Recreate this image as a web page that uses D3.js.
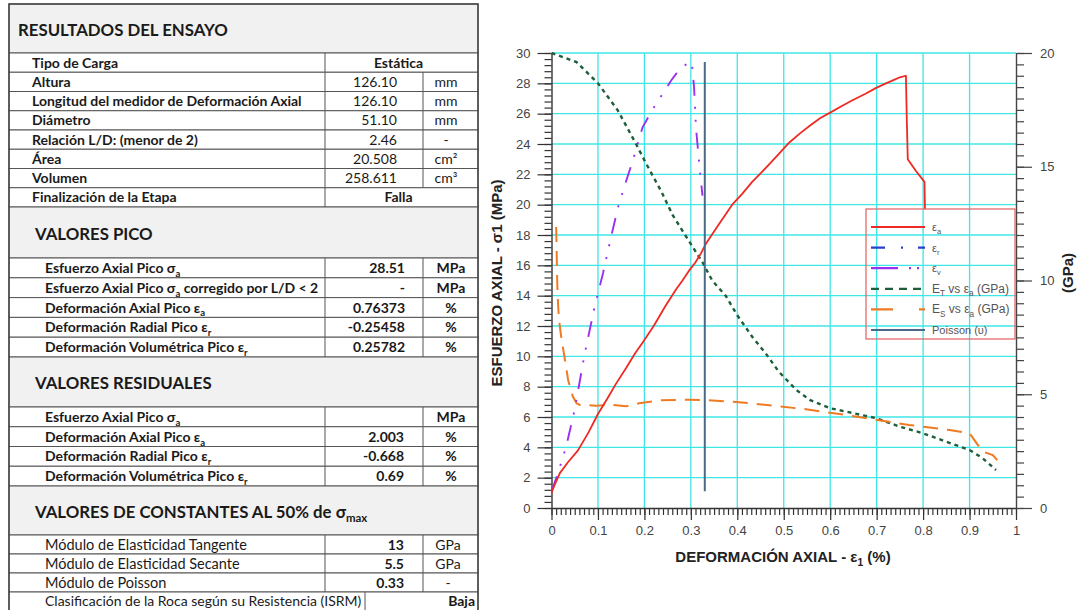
<!DOCTYPE html>
<html>
<head>
<meta charset="utf-8">
<script src="https://cdn.jsdelivr.net/npm/d3@7"></script>
<style>
  body { margin: 0; background: #fff; }
  svg { display: block; }
</style>
</head>
<body>
<div id="vis"></div>
<script>
// ---- table contents ----
var ensayoTitle = 'RESULTADOS DEL ENSAYO';
var ensayoRows = [
  ['Tipo de Carga', 'Estática', null],
  ['Altura', '126.10', 'mm'],
  ['Longitud del medidor de Deformación Axial', '126.10', 'mm'],
  ['Diámetro', '51.10', 'mm'],
  ['Relación L/D: (menor de 2)', '2.46', '-'],
  ['Área', '20.508', 'cm²'],
  ['Volumen', '258.611', 'cm³'],
  ['Finalización de la Etapa', 'Falla', null]
];
var picoTitle = 'VALORES PICO';
var picoRows = [
  ['Esfuerzo Axial Pico σ_a', '28.51', 'MPa'],
  ['Esfuerzo Axial Pico σ_a corregido por L/D < 2', '-', 'MPa'],
  ['Deformación Axial Pico ε_a', '0.76373', '%'],
  ['Deformación Radial Pico ε_r', '-0.25458', '%'],
  ['Deformación Volumétrica Pico ε_r', '0.25782', '%']
];
var residualTitle = 'VALORES RESIDUALES';
var residualRows = [
  ['Esfuerzo Axial Pico σ_a', '', 'MPa'],
  ['Deformación Axial Pico ε_a', '2.003', '%'],
  ['Deformación Radial Pico ε_r', '-0.668', '%'],
  ['Deformación Volumétrica Pico ε_r', '0.69', '%']
];
var constTitle = 'VALORES DE CONSTANTES AL 50% de σ_{max}';
var constRows = [
  ['Módulo de Elasticidad Tangente', '13', 'GPa'],
  ['Módulo de Elasticidad Secante', '5.5', 'GPa'],
  ['Módulo de Poisson', '0.33', '-']
];
var clasificacion = ['Clasificación de la Roca según su Resistencia (ISRM)', 'Baja'];

// ---- chart data: [axial strain %, stress MPa] or [axial strain %, GPa] ----
var epsA = [[0,1.0],[0.005,1.4],[0.018,2.3],[0.035,3.0],[0.057,3.8],[0.08,5.0],[0.1,6.2],
  [0.12,7.2],[0.139,8.2],[0.16,9.2],[0.18,10.2],[0.196,10.9],[0.22,12.0],[0.245,13.3],
  [0.268,14.4],[0.282,15.0],[0.295,15.6],[0.31,16.2],[0.322,16.8],[0.332,17.4],[0.36,18.7],
  [0.389,20.0],[0.41,20.7],[0.432,21.5],[0.448,22.0],[0.47,22.7],[0.491,23.4],[0.512,24.1],
  [0.535,24.7],[0.556,25.2],[0.578,25.7],[0.599,26.05],[0.625,26.5],[0.649,26.9],[0.675,27.3],
  [0.699,27.7],[0.72,28.0],[0.735,28.2],[0.75,28.4],[0.763,28.5],[0.765,25.5],[0.767,23.0],
  [0.785,22.2],[0.803,21.5],[0.804,19.7]];
var epsR = []; // radial strain is negative, lies left of the plotted range
var epsV = [[0,1.1],[0.014,2.3],[0.032,4.1],[0.05,6.5],[0.071,10.1],[0.093,13.3],[0.111,15.5],
  [0.127,17.7],[0.143,19.8],[0.16,21.5],[0.175,22.9],[0.196,25.1],[0.218,26.3],[0.239,27.3],
  [0.258,28.2],[0.275,28.9],[0.296,29.4],[0.302,29.4],[0.307,27.7],[0.311,25.1],[0.318,22.7],
  [0.325,20.6]];
var modET = [[0,20.0],[0.054,19.6],[0.1,18.67],[0.143,17.47],[0.182,16.0],[0.204,15.13],
  [0.236,13.93],[0.261,12.87],[0.296,11.73],[0.325,10.8],[0.346,10.0],[0.375,9.33],[0.4,8.47],
  [0.432,7.53],[0.461,6.8],[0.489,6.0],[0.527,5.19],[0.556,4.75],[0.599,4.39],[0.649,4.17],
  [0.699,3.95],[0.749,3.58],[0.799,3.29],[0.849,2.92],[0.9,2.55],[0.928,2.19],[0.957,1.67]];
var modES = [[0.01,12.35],[0.011,11.4],[0.012,10.3],[0.013,9.4],[0.016,8.3],[0.021,7.5],
  [0.029,6.5],[0.036,5.6],[0.046,4.9],[0.054,4.6],[0.061,4.53],[0.096,4.5],[0.132,4.53],
  [0.161,4.47],[0.189,4.6],[0.232,4.73],[0.296,4.76],[0.346,4.73],[0.404,4.65],[0.489,4.47],
  [0.548,4.34],[0.62,4.13],[0.692,3.9],[0.77,3.65],[0.857,3.43],[0.9,3.29],[0.928,2.48],
  [0.95,2.33],[0.964,2.0]];
var poissonX = 0.33;
var poissonStress = [1.1, 29.4];

var xTicks = [0, 0.1, 0.2, 0.3, 0.4, 0.5, 0.6, 0.7, 0.8, 0.9, 1];
var xTickLabels = ['0', '0.1', '0.2', '0.3', '0.4', '0.5', '0.6', '0.7', '0.8', '0.9', '1'];
var yTicks = d3.range(0, 31, 2);
var y2Ticks = [0, 5, 10, 15, 20];

var legendLabels = ['ε_a', 'ε_r', 'ε_v', 'E_T vs ε_a (GPa)', 'E_S vs ε_a (GPa)', 'Poisson (υ)'];

// ---- helpers ----
var W = 1078, H = 610;
var svg = d3.select('#vis').append('svg').attr('width', W).attr('height', H);

// text with _x / _{xx} subscripts and ^x superscripts
function rich(t, str, fs) {
  var parts = str.split(/([_^]\{[^}]*\}|[_^][^\s{])/).filter(function(s) { return s.length; });
  var shift = 0;
  parts.forEach(function(p) {
    var ts = t.append('tspan');
    var target = 0, content = p;
    if (p[0] === '_' || p[0] === '^') {
      content = p[1] === '{' ? p.slice(2, -1) : p.slice(1);
      target = p[0] === '_' ? fs * 0.28 : -fs * 0.4;
      ts.attr('font-size', fs * 0.68);
    }
    ts.attr('dy', target - shift).text(content);
    shift = target;
  });
  return t;
}

// ---- table ----
var tX0 = 9, tX1 = 478, c1 = 325, c2 = 423;
var tFont = 'Lato, "Open Sans", sans-serif';
var tbl = svg.append('g').attr('font-family', tFont).attr('fill', '#1a1a1a');
var lineCol = '#555';

var sections = [
  {title: ensayoTitle, top: 4, headH: 49, titleX: 18, titleSize: 16.8, titleWeight: 700,
   rows: ensayoRows, rowH: 19.25, labelX: 32, valX: 397, unitX: 446, fs: 14,
   labelW: 700, valW: 400, unitW: 400},
  {title: picoTitle, top: 207, headH: 51, titleX: 35, titleSize: 16.8, titleWeight: 700,
   rows: picoRows, rowH: 19.8, labelX: 45, valX: 405, unitX: 451, fs: 14,
   labelW: 700, valW: 700, unitW: 700},
  {title: residualTitle, top: 357, headH: 50, titleX: 35, titleSize: 16.8, titleWeight: 700,
   rows: residualRows, rowH: 19.75, labelX: 45, valX: 404, unitX: 451, fs: 14,
   labelW: 700, valW: 700, unitW: 700},
  {title: constTitle, top: 486, headH: 49, titleX: 35, titleSize: 16.8, titleWeight: 700,
   rows: constRows, rowH: 19, labelX: 45, valX: 404, unitX: 448, fs: 14.5,
   labelW: 400, valW: 700, unitW: 400}
];

sections.forEach(function(s) {
  tbl.append('rect').attr('x', tX0).attr('y', s.top).attr('width', tX1 - tX0).attr('height', s.headH)
    .attr('fill', '#f1f1f1').attr('stroke', lineCol).attr('stroke-width', 1);
  var tt = tbl.append('text').attr('x', s.titleX).attr('y', s.top + s.headH / 2 + 7)
    .attr('font-size', s.titleSize).attr('font-weight', s.titleWeight);
  rich(tt, s.title, s.titleSize);

  s.rows.forEach(function(r, i) {
    var ry = s.top + s.headH + i * s.rowH;
    var cy = ry + s.rowH / 2 + 5;
    tbl.append('rect').attr('x', tX0).attr('y', ry).attr('width', tX1 - tX0).attr('height', s.rowH)
      .attr('fill', '#fff').attr('stroke', lineCol).attr('stroke-width', 1);
    tbl.append('line').attr('x1', c1).attr('x2', c1).attr('y1', ry).attr('y2', ry + s.rowH)
      .attr('stroke', lineCol);
    var lt = tbl.append('text').attr('x', s.labelX).attr('y', cy)
      .attr('font-size', s.fs).attr('font-weight', s.labelW);
    rich(lt, r[0], s.fs);
    if (r[2] === null) {
      tbl.append('text').attr('x', (c1 + tX1) / 2 - 3).attr('y', cy).attr('text-anchor', 'middle')
        .attr('font-size', 14).attr('font-weight', 700).text(r[1]);
    } else {
      tbl.append('line').attr('x1', c2).attr('x2', c2).attr('y1', ry).attr('y2', ry + s.rowH)
        .attr('stroke', lineCol);
      tbl.append('text').attr('x', s.valX).attr('y', cy).attr('text-anchor', 'end')
        .attr('font-size', 14).attr('font-weight', s.valW).text(r[1]);
      tbl.append('text').attr('x', s.unitX).attr('y', cy).attr('text-anchor', 'middle')
        .attr('font-size', 14).attr('font-weight', s.unitW).text(r[2]);
    }
  });
});

// last row (classification)
(function() {
  var s = sections[3];
  var ry = s.top + s.headH + s.rows.length * s.rowH;
  var rh = H - ry + 2;
  tbl.append('rect').attr('x', tX0).attr('y', ry).attr('width', tX1 - tX0).attr('height', rh)
    .attr('fill', '#fff').attr('stroke', lineCol);
  tbl.append('line').attr('x1', 365).attr('x2', 365).attr('y1', ry).attr('y2', ry + rh).attr('stroke', lineCol);
  tbl.append('text').attr('x', s.labelX).attr('y', ry + 14).attr('font-size', 14).text(clasificacion[0]);
  tbl.append('text').attr('x', 475).attr('y', ry + 14).attr('text-anchor', 'end')
    .attr('font-size', 14).attr('font-weight', 700).text(clasificacion[1]);
})();

tbl.append('rect').attr('x', tX0).attr('y', 4).attr('width', tX1 - tX0).attr('height', H)
  .attr('fill', 'none').attr('stroke', '#444').attr('stroke-width', 1.5);

// ---- chart ----
var x = d3.scaleLinear().domain([0, 1]).range([551.5, 1016]);
var y = d3.scaleLinear().domain([0, 30]).range([508, 53]);
var y2 = d3.scaleLinear().domain([0, 20]).range([508, 53]);

var chart = svg.append('g').attr('font-family', '"Liberation Sans", Arial, sans-serif');

chart.append('clipPath').attr('id', 'plotClip').append('rect')
  .attr('x', x(0)).attr('y', y(30) - 2).attr('width', x(1) - x(0)).attr('height', y(0) - y(30) + 2);

// grid
var grid = chart.append('g').attr('stroke', '#3fe6e6').attr('stroke-width', 1.3);
grid.selectAll('.gx').data(xTicks.slice(1, -1)).enter().append('line')
  .attr('x1', function(d) { return x(d); }).attr('x2', function(d) { return x(d); })
  .attr('y1', y(0)).attr('y2', y(30));
grid.selectAll('.gy').data(yTicks.slice(1)).enter().append('line')
  .attr('x1', x(0)).attr('x2', x(1))
  .attr('y1', function(d) { return y(d); }).attr('y2', function(d) { return y(d); });

function styleAxis(g, col) {
  g.selectAll('path').attr('stroke', col).attr('stroke-width', 1.4);
  g.selectAll('line').attr('stroke', col).attr('stroke-width', 1.2);
  g.selectAll('text').attr('fill', '#444').attr('font-size', 13).attr('font-family', '"Liberation Sans", Arial, sans-serif');
}

// left axis
var yMinor = chart.append('g').attr('transform', 'translate(' + x(0) + ',0)')
  .call(d3.axisLeft(y).tickValues(d3.range(0, 76).map(function(i) { return i * 0.4; }))
    .tickSize(7).tickFormat(''));
yMinor.select('.domain').remove();
styleAxis(yMinor, '#333');
var yAxis = chart.append('g').attr('transform', 'translate(' + x(0) + ',0)')
  .call(d3.axisLeft(y).tickValues(yTicks).tickSize(14).tickSizeOuter(0).tickPadding(7));
styleAxis(yAxis, '#333');

// bottom axis
var xMinor = chart.append('g').attr('transform', 'translate(0,' + y(0) + ')')
  .call(d3.axisBottom(x).tickValues(d3.range(0, 101).map(function(i) { return i / 100; })).tickSize(7).tickFormat(''));
xMinor.select('.domain').remove();
styleAxis(xMinor, '#333');
var xAxis = chart.append('g').attr('transform', 'translate(0,' + y(0) + ')')
  .call(d3.axisBottom(x).tickValues(xTicks).tickSize(12).tickSizeOuter(0).tickPadding(6)
    .tickFormat(function(d, i) { return xTickLabels[i]; }));
styleAxis(xAxis, '#333');

// right axis
var y2Minor = chart.append('g').attr('transform', 'translate(' + x(1) + ',0)')
  .call(d3.axisRight(y2).tickValues(d3.range(0, 41).map(function(i) { return i * 0.5; })).tickSize(8).tickFormat(''));
y2Minor.select('.domain').remove();
styleAxis(y2Minor, '#444');
var y2Axis = chart.append('g').attr('transform', 'translate(' + x(1) + ',0)')
  .call(d3.axisRight(y2).tickValues(y2Ticks).tickSize(16).tickSizeOuter(0).tickPadding(8));
styleAxis(y2Axis, '#444');

// series
var plot = chart.append('g').attr('clip-path', 'url(#plotClip)').attr('fill', 'none');
var lineMPa = d3.line().x(function(d) { return x(d[0]); }).y(function(d) { return y(d[1]); });
var lineGPa = d3.line().x(function(d) { return x(d[0]); }).y(function(d) { return y2(d[1]); });

var styles = [
  {col: '#ee2a24', dash: null, w: 1.8, legDash: null},
  {col: '#2a3fd0', dash: '12,6,2,6', w: 1.8, legDash: '14,16,2,15,8'},
  {col: '#9b30f0', dash: '16,11,2,11,2,11', w: 1.9, legDash: '27,11,2,6,2,6'},
  {col: '#1f5e3a', dash: '4,4', w: 2.4, legDash: '8,6'},
  {col: '#f07a22', dash: '15,9', w: 2, legDash: '22,26,10'},
  {col: '#4a6887', dash: null, w: 2, legDash: null}
];

plot.append('path').datum(modET).attr('d', lineGPa).attr('stroke', styles[3].col)
  .attr('stroke-width', styles[3].w).attr('stroke-dasharray', styles[3].dash);
plot.append('path').datum(modES).attr('d', lineGPa).attr('stroke', styles[4].col)
  .attr('stroke-width', styles[4].w).attr('stroke-dasharray', styles[4].dash);
plot.append('path').datum(epsR).attr('d', lineMPa).attr('stroke', styles[1].col)
  .attr('stroke-width', styles[1].w).attr('stroke-dasharray', styles[1].dash);
plot.append('path').datum(epsV).attr('d', lineMPa).attr('stroke', styles[2].col)
  .attr('stroke-width', styles[2].w).attr('stroke-dasharray', styles[2].dash);
plot.append('path').datum(epsA).attr('d', lineMPa).attr('stroke', styles[0].col)
  .attr('stroke-width', styles[0].w).attr('stroke-linejoin', 'round');
plot.append('path').datum(poissonStress.map(function(s) { return [poissonX, s]; }))
  .attr('d', lineMPa).attr('stroke', styles[5].col).attr('stroke-width', styles[5].w);

// legend
var leg = chart.append('g');
leg.append('rect').attr('x', 866).attr('y', 209).attr('width', 149).attr('height', 130)
  .attr('fill', 'none').attr('stroke', '#e36a6a').attr('stroke-width', 1.3);
legendLabels.forEach(function(lab, i) {
  var ly = 227 + i * 20.6;
  var st = styles[i];
  var fs = (i === 3 || i === 4) ? 12 : 11;
  leg.append('line').attr('x1', 871).attr('x2', 925).attr('y1', ly).attr('y2', ly)
    .attr('stroke', st.col).attr('stroke-width', 2.2).attr('stroke-dasharray', st.legDash);
  var t = leg.append('text').attr('x', 932).attr('y', ly + 4).attr('font-size', fs).attr('fill', '#555');
  rich(t, lab, fs);
});

// axis titles
var bt = chart.append('text').attr('x', 783).attr('y', 562).attr('text-anchor', 'middle')
  .attr('font-size', 15).attr('font-weight', 700).attr('fill', '#222');
rich(bt, 'DEFORMACIÓN AXIAL - ε_1 (%)', 15);
var lt = chart.append('text').attr('transform', 'translate(502,283) rotate(-90)').attr('text-anchor', 'middle')
  .attr('font-size', 15).attr('font-weight', 700).attr('fill', '#222');
lt.append('tspan').text('ESFUERZO AXIAL - σ1 (MPa)');
chart.append('text').attr('transform', 'translate(1073,273) rotate(-90)').attr('text-anchor', 'middle')
  .attr('font-size', 15).attr('font-weight', 700).attr('fill', '#222').text('(GPa)');
</script>
</body>
</html>
